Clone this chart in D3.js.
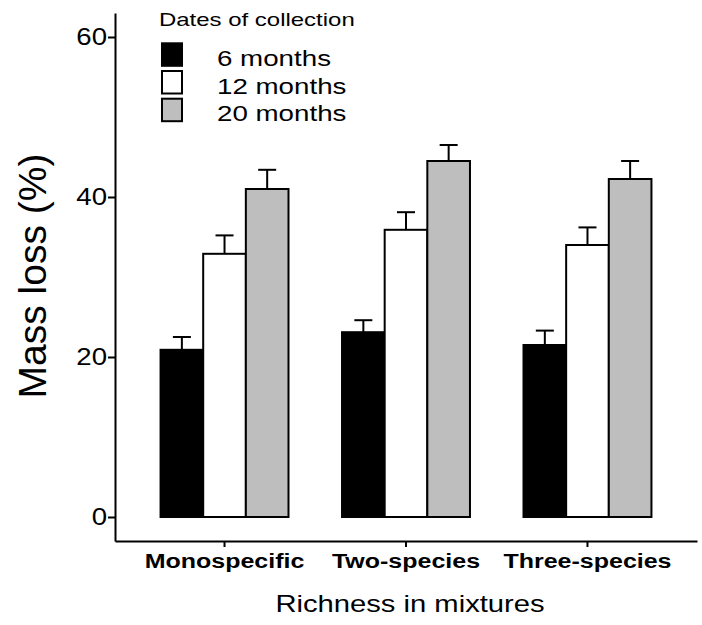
<!DOCTYPE html>
<html>
<head>
<meta charset="utf-8">
<script src="https://cdn.jsdelivr.net/npm/d3@7"></script>
<style>
  body { margin: 0; background: #fff; }
  svg { display: block; font-family: "Liberation Sans", Arial, sans-serif; }
</style>
</head>
<body>
<svg id="chart" width="702" height="625"></svg>
<script>
const categories = ["Monospecific", "Two-species", "Three-species"];
const seriesNames = ["6 months", "12 months", "20 months"];
const seriesColors = ["#000000", "#ffffff", "#bebebe"];
const means = {
  "6 months":  [20.9, 23.1, 21.5],
  "12 months": [32.9, 35.9, 34.0],
  "20 months": [41.0, 44.5, 42.25]
};
const upper = {
  "6 months":  [22.5, 24.6, 23.3],
  "12 months": [35.2, 38.1, 36.2],
  "20 months": [43.4, 46.5, 44.5]
};
const yTicks = [0, 20, 40, 60];

const FONT = "Liberation Sans, Arial, sans-serif";
const svg = d3.select("#chart");
const x0 = d3.scaleBand().domain(categories).range([115, 697]).paddingInner(0.295).paddingOuter(0.251);
const x1 = d3.scaleBand().domain(seriesNames).range([0, x0.bandwidth()]);
const y = d3.scaleLinear().domain([-3, 63]).range([541, 13]);

const rows = [];
categories.forEach((c, i) => seriesNames.forEach((s, j) => rows.push({c, s, j, v: means[s][i], u: upper[s][i]})));

const g = svg.append("g");
g.selectAll("rect.bar").data(rows).enter().append("rect")
  .attr("x", d => x0(d.c) + x1(d.s))
  .attr("y", d => y(d.v))
  .attr("width", x1.bandwidth())
  .attr("height", d => y(0) - y(d.v))
  .attr("fill", d => seriesColors[d.j])
  .attr("stroke", "#000").attr("stroke-width", 2);

const cap = 9;
const cx = d => x0(d.c) + x1(d.s) + x1.bandwidth() / 2;
g.selectAll("line.err").data(rows).enter().append("line")
  .attr("x1", cx).attr("x2", cx)
  .attr("y1", d => y(d.v)).attr("y2", d => y(d.u))
  .attr("stroke", "#000").attr("stroke-width", 2);
g.selectAll("line.cap").data(rows).enter().append("line")
  .attr("x1", d => cx(d) - cap).attr("x2", d => cx(d) + cap)
  .attr("y1", d => y(d.u)).attr("y2", d => y(d.u))
  .attr("stroke", "#000").attr("stroke-width", 2);

// y axis
const yAxis = svg.append("g").attr("transform", "translate(115,0)")
  .call(d3.axisLeft(y).tickValues(yTicks).tickSize(7).tickSizeOuter(0));
yAxis.select(".domain").attr("stroke-width", 2);
yAxis.selectAll(".tick line").attr("stroke-width", 2);
yAxis.selectAll(".tick text")
  .attr("x", 0).attr("transform", "translate(-8,0) scale(1.2,1)")
  .attr("font-size", 23).attr("fill", "#000").attr("font-family", FONT);

// x axis
const xAxis = svg.append("g").attr("transform", "translate(0,541)")
  .call(d3.axisBottom(x0).tickSize(6).tickSizeOuter(0));
xAxis.select(".domain").attr("stroke-width", 2);
xAxis.selectAll(".tick line").attr("stroke-width", 2);
xAxis.selectAll(".tick text")
  .attr("y", 0).attr("dy", "0.71em").attr("transform", "translate(0,13) scale(1.25,1)")
  .attr("font-size", 20).attr("font-weight", "bold").attr("fill", "#000").attr("font-family", FONT);

// titles
svg.append("text").attr("transform", "translate(410,612) scale(1.27,1)").attr("text-anchor", "middle")
  .attr("font-size", 23).text("Richness in mixtures");
svg.append("text").attr("transform", "translate(46,276) rotate(-90)").attr("text-anchor", "middle")
  .attr("font-size", 39).text("Mass loss (%)");

// legend
const leg = svg.append("g");
leg.append("text").attr("transform", "translate(159,26) scale(1.37,1)").attr("font-size", 17.5).text("Dates of collection");
seriesNames.forEach((s, j) => {
  leg.append("rect").attr("x", 162).attr("y", 43.3 + j * 27.7).attr("width", 20).attr("height", 22.5)
    .attr("fill", seriesColors[j]).attr("stroke", "#000").attr("stroke-width", 2);
  leg.append("text").attr("transform", `translate(217,${66 + j * 27.5}) scale(1.26,1)`).attr("font-size", 22).text(s);
});
</script>
</body>
</html>
